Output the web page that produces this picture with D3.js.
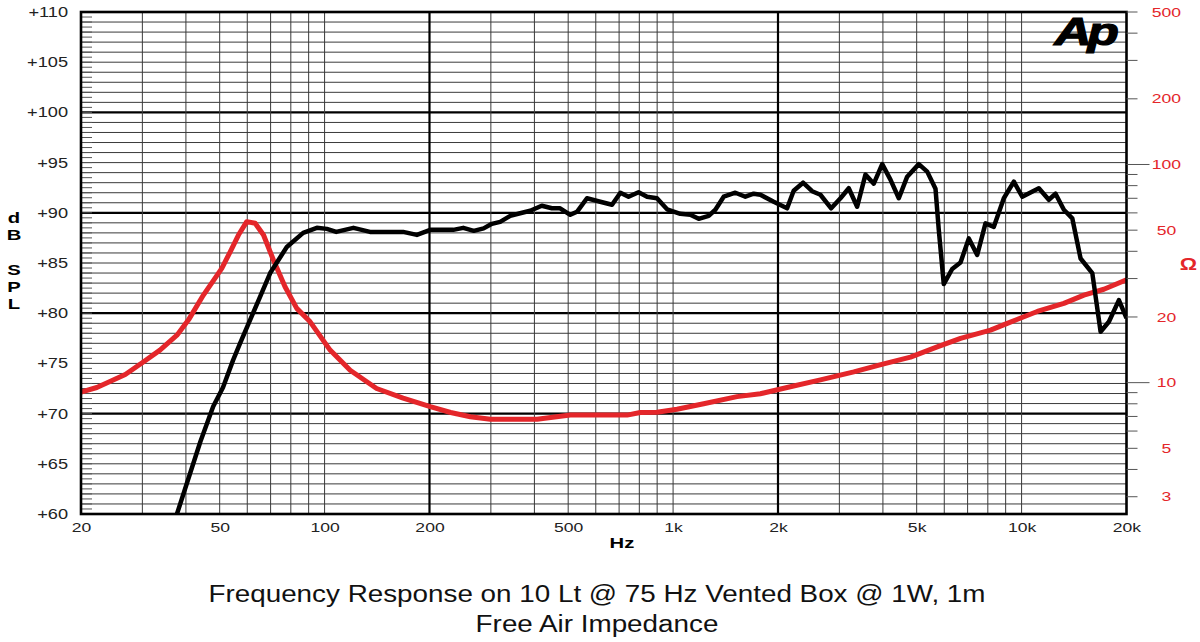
<!DOCTYPE html>
<meta charset="utf-8">
<style>
  body { margin: 0; background: #fff; }
  svg { font-family: "Liberation Sans", Arial, sans-serif; }
  /* the original plot is stretched sideways, so the text is too */
  .wide { transform-box: fill-box; transform-origin: center; transform: scaleX(1.35); }
  .wideR { transform-box: fill-box; transform-origin: right center; transform: scaleX(1.3); }
  .cap { transform-box: fill-box; transform-origin: center; transform: scaleX(1.21); }
  .spl { fill: none; stroke: #000; stroke-width: 4.5px; stroke-linejoin: round; }
  .imp { fill: none; stroke: #e4262a; stroke-width: 5px; stroke-linejoin: round; }
</style>
<body>
<script src="https://d3js.org/d3.v7.min.js"></script>
<script>
  // SPL curve (Hz, dB)
  var splFreq = [37.7, 44, 47.9, 51.1, 54.6, 57.2, 61.8, 69.8, 77.9, 86.8, 95, 101.5, 108, 121, 135, 168, 184,
    201, 234, 250, 268, 286, 302, 319, 341, 364, 389, 420, 449, 474, 507, 530, 566, 618, 668, 706, 745, 796,
    842, 899, 961, 1049, 1121, 1184, 1265, 1322, 1397, 1509, 1612, 1703, 1780, 1944, 2124, 2218, 2360, 2506,
    2647, 2842, 3022, 3192, 3374, 3564, 3766, 3982, 4204, 4443, 4696, 5070, 5360, 5662, 5786, 5980, 6322,
    6680, 7056, 7458, 7878, 8326, 8892, 9502, 10044, 11208, 11972, 12514, 13224, 13978, 14766, 15954, 16854,
    17804, 19020, 20000];
  var splDb = [60, 67.2, 70.7, 72.6, 75.3, 77.0, 79.7, 84.0, 86.6, 88.0, 88.5, 88.4, 88.1, 88.5, 88.1, 88.1, 87.8,
    88.3, 88.3, 88.5, 88.2, 88.45, 88.9, 89.1, 89.7, 89.95, 90.2, 90.7, 90.45, 90.45, 89.8, 90.1, 91.45, 91.1,
    90.8, 92.0, 91.6, 92.05, 91.6, 91.45, 90.35, 89.9, 89.8, 89.4, 89.7, 90.3, 91.6, 92.0, 91.6, 91.9, 91.8,
    91.1, 90.45, 92.2, 93.0, 92.15, 91.8, 90.45, 91.45, 92.45, 90.6, 93.8, 92.9, 94.85, 93.3, 91.45, 93.6,
    94.85, 94.1, 92.4, 88.3, 82.9, 84.4, 85.05, 87.45, 85.8, 88.95, 88.6, 91.45, 93.1, 91.6, 92.45, 91.3,
    91.9, 90.3, 89.45, 85.45, 84.0, 78.15, 79.15, 81.3, 79.5];

  // free air impedance (Hz, ohm)
  var impFreq = [20, 22.2, 26.8, 29.9, 33.7, 37.7, 40.7, 44.9, 50.7, 53.6, 56.6, 59.8, 63.2, 66.8, 71.3, 77,
    83.2, 90.9, 103.7, 118.4, 141, 168, 201, 230, 262, 299, 407, 507, 738, 805, 899, 1026, 1224, 1526, 1780,
    2124, 2647, 3300, 4022, 4800, 5726, 6680, 8144, 9096, 11092, 13224, 15092, 17224, 20000];
  var impOhm = [9.05, 9.5, 10.9, 12.3, 14.1, 16.5, 19.4, 25.2, 33.4, 39.8, 47.5, 54.7, 53.8, 47.5, 36.5, 27.5,
    21.9, 19.0, 14.1, 11.4, 9.4, 8.5, 7.76, 7.3, 6.98, 6.8, 6.8, 7.1, 7.1, 7.3, 7.32, 7.55, 8.0, 8.63, 8.9,
    9.5, 10.3, 11.2, 12.2, 13.1, 14.6, 15.97, 17.4, 18.7, 21.2, 23.1, 25.2, 26.8, 29.6];

  var freqTicks = [20, 50, 100, 200, 500, 1000, 2000, 5000, 10000, 20000];
  var freqLabels = ["20", "50", "100", "200", "500", "1k", "2k", "5k", "10k", "20k"];
  var dbTicks = [60, 65, 70, 75, 80, 85, 90, 95, 100, 105, 110];
  var ohmTicks = [3, 5, 10, 20, 50, 100, 200, 500];

  var margin = { top: 12, right: 73.5, bottom: 128, left: 81 },
    width = 1200 - margin.left - margin.right,
    height = 642 - margin.top - margin.bottom;

  var x = d3.scaleLog().domain([20, 20000]).range([0, width]);
  var y = d3.scaleLinear().domain([60, 110]).range([height, 0]);
  var yR = d3.scaleLog().domain([2.5, 500]).range([height, 0]);

  var svg = d3.select("body").append("svg")
    .attr("width", 1200)
    .attr("height", 642)
    .append("g")
    .attr("transform", "translate(" + margin.left + "," + margin.top + ")");

  svg.append("rect").attr("width", width).attr("height", height).attr("fill", "#fff");

  // horizontal grid, one per dB
  var dbLines = d3.range(61, 110);
  svg.selectAll(".hgrid").data(dbLines).enter().append("line")
    .attr("x1", 0).attr("x2", width)
    .attr("y1", d => y(d)).attr("y2", d => y(d))
    .attr("stroke", d => d % 10 == 0 ? "#000" : "#3a3a3a")
    .attr("stroke-width", d => d % 10 == 0 ? 2.2 : 1);

  // short ticks on the inside of the left edge, every half dB
  svg.selectAll(".ltick").data(d3.range(60.5, 110, 0.5)).enter().append("line")
    .attr("x1", 0).attr("x2", 11)
    .attr("y1", d => y(d)).attr("y2", d => y(d))
    .attr("stroke", "#555").attr("stroke-width", 1);

  // vertical grid
  var vThin = d3.range(30, 101, 10).concat(d3.range(300, 1001, 100), d3.range(3000, 10001, 1000));
  svg.selectAll(".vgrid").data(vThin).enter().append("line")
    .attr("x1", d => x(d)).attr("x2", d => x(d))
    .attr("y1", 0).attr("y2", height)
    .attr("stroke", "#3a3a3a").attr("stroke-width", 1);
  svg.selectAll(".vmajor").data([200, 2000]).enter().append("line")
    .attr("x1", d => x(d)).attr("x2", d => x(d))
    .attr("y1", 0).attr("y2", height)
    .attr("stroke", "#000").attr("stroke-width", 2.2);

  // curves
  svg.append("clipPath").attr("id", "plot").append("rect")
    .attr("width", width).attr("height", height);

  var splLine = d3.line().x(d => x(d[0])).y(d => y(d[1]));
  var impLine = d3.line().x(d => x(d[0])).y(d => yR(d[1]));

  svg.append("path")
    .datum(impFreq.map((f, i) => [f, impOhm[i]]))
    .attr("class", "imp")
    .attr("clip-path", "url(#plot)")
    .attr("d", impLine);

  svg.append("path")
    .datum(splFreq.map((f, i) => [f, splDb[i]]))
    .attr("class", "spl")
    .attr("clip-path", "url(#plot)")
    .attr("d", splLine);

  // frame
  svg.append("rect").attr("width", width).attr("height", height)
    .attr("fill", "none").attr("stroke", "#000").attr("stroke-width", 2.6);

  // left axis labels
  var gl = svg.append("g")
    .call(d3.axisLeft(y).tickValues(dbTicks).tickSize(0).tickPadding(13)
      .tickFormat(d => "+" + d));
  gl.select(".domain").remove();
  gl.selectAll("text").attr("class", "wideR")
    .style("font-size", "14px").attr("fill", "#222");

  // bottom axis labels
  var gb = svg.append("g")
    .attr("transform", "translate(0," + height + ")")
    .call(d3.axisBottom(x).tickValues(freqTicks).tickSize(0).tickPadding(9)
      .tickFormat((d, i) => freqLabels[i]));
  gb.select(".domain").remove();
  gb.selectAll("text").attr("class", "wide")
    .style("font-size", "13px").attr("fill", "#222");

  // right axis: impedance, ticks outside
  var ohmAll = d3.range(3, 10).concat(d3.range(10, 100, 10), d3.range(100, 501, 100));
  var gr = svg.append("g").attr("transform", "translate(" + width + ",0)");
  gr.selectAll(".rtick").data(ohmAll).enter().append("line")
    .attr("x1", 0).attr("x2", d => (d == 10 || d == 100) ? 23 : 11)
    .attr("y1", d => yR(d)).attr("y2", d => yR(d))
    .attr("stroke", "#555").attr("stroke-width", 1);
  gr.selectAll(".rlab").data(ohmTicks).enter().append("text")
    .attr("class", "wide")
    .attr("x", 40).attr("y", d => yR(d)).attr("dy", "0.35em")
    .attr("text-anchor", "middle")
    .style("font-size", "13px").attr("fill", "#e4262a")
    .text(d => d);
  gr.append("text").attr("class", "wide")
    .attr("x", 62).attr("y", 258).attr("text-anchor", "middle")
    .style("font-size", "16px").style("font-weight", "bold").attr("fill", "#e4262a")
    .text("\u03a9");

  // dB SPL, one letter per row
  var letters = [["d", 223], ["B", 240], ["S", 275], ["P", 292], ["L", 309]];
  d3.select("svg").selectAll(".ylab").data(letters).enter().append("text")
    .attr("class", "wide")
    .attr("x", 14).attr("y", d => d[1]).attr("text-anchor", "middle")
    .style("font-size", "15px").style("font-weight", "bold")
    .text(d => d[0]);

  // Hz
  d3.select("svg").append("text").attr("class", "wide")
    .attr("x", 622).attr("y", 548).attr("text-anchor", "middle")
    .style("font-size", "15px").style("font-weight", "bold")
    .text("Hz");

  // Ap logo
  d3.select("svg").append("text").attr("class", "wide")
    .attr("x", 1085).attr("y", 45).attr("text-anchor", "middle")
    .style("font-size", "38px").style("font-weight", "bold").style("font-style", "italic")
    .style("letter-spacing", "-3px")
    .attr("stroke", "#000").attr("stroke-width", 1.2)
    .text("Ap");

  // captions
  var caps = [["Frequency Response on 10 Lt @ 75 Hz Vented Box @ 1W, 1m", 602], ["Free Air Impedance", 632]];
  d3.select("svg").selectAll(".capt").data(caps).enter().append("text")
    .attr("class", "cap")
    .attr("x", 597).attr("y", d => d[1]).attr("text-anchor", "middle")
    .style("font-size", "23px").attr("fill", "#111")
    .text(d => d[0]);
</script>
</body>
